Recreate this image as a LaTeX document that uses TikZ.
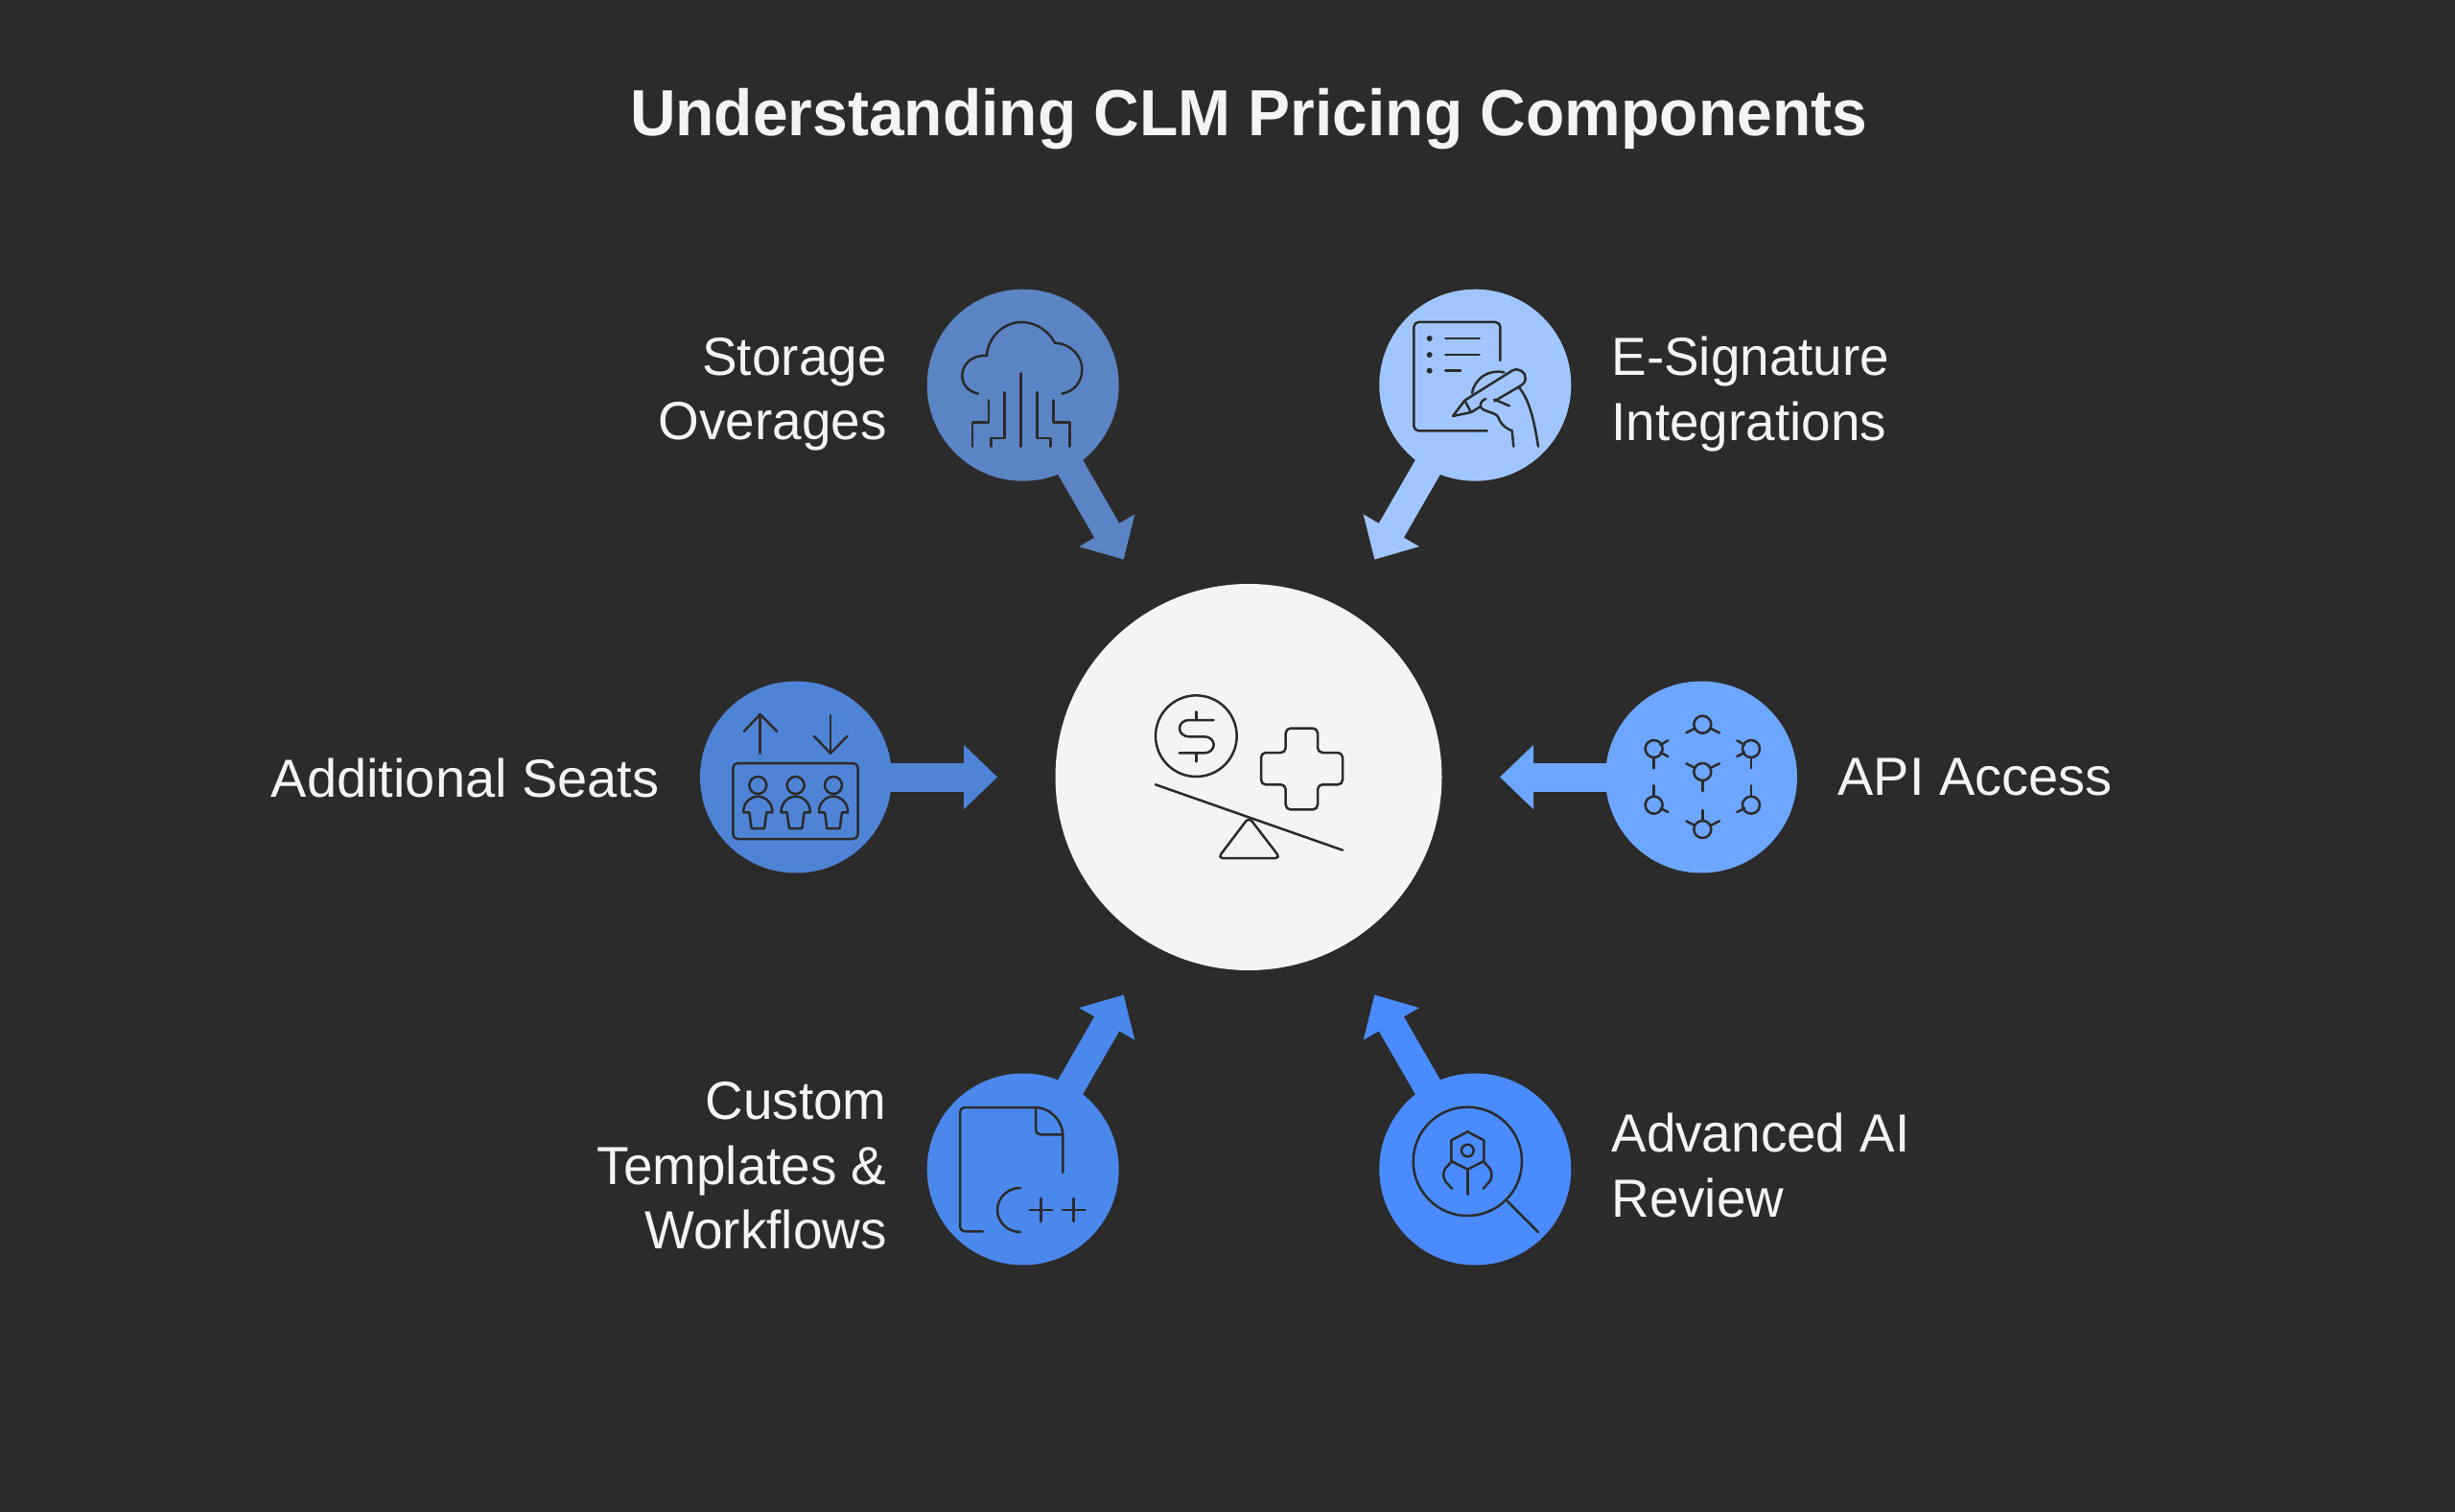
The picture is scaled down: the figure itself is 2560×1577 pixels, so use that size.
\documentclass[tikz,border=0pt]{standalone}
\usepackage{fontspec}
\usetikzlibrary{arrows.meta}
\setmainfont{Liberation Sans}
\newfontfamily\ttlfont[FakeStretch=0.97]{Liberation Sans}
\newfontfamily\lblfont[FakeStretch=0.98]{Liberation Sans}
\definecolor{bg}{HTML}{2B2B2B}
\definecolor{hubc}{HTML}{F4F4F4}
\definecolor{storc}{HTML}{5B84C4}
\definecolor{esigc}{HTML}{A1C6FF}
\definecolor{seatc}{HTML}{4F83D6}
\definecolor{apic}{HTML}{6CA6FF}
\definecolor{custc}{HTML}{4A88EB}
\definecolor{aic}{HTML}{4A8CFF}
\definecolor{txt}{HTML}{F4F4F4}
\tikzset{
  blob/.style={circle,minimum size=100pt,inner sep=0pt,fill=#1},
  flow/.style={draw=#1,line width=15pt,-{Triangle[length=17.5pt,width=32.5pt,fill=#1,color=#1]}},
  lblr/.style={text=txt,font=\lblfont\fontsize{28}{33.7}\selectfont,align=right,anchor=east,inner sep=0pt},
  lbll/.style={text=txt,font=\lblfont\fontsize{28}{33.7}\selectfont,align=left,anchor=west,inner sep=0pt},
  lone/.style={font=\fontsize{28}{33.7}\selectfont},
  ttl/.style={text=txt,font=\ttlfont\fontsize{34}{40}\selectfont\bfseries,inner sep=0pt},
  ico/.style={draw=bg,line width=1.25pt,line cap=round,line join=round},
  zoomed/.style={x=0.16667pt,y=-0.16667pt}
}
\begin{document}
\begin{tikzpicture}[x=0.5pt,y=-0.5pt]
\useasboundingbox (0,0) rectangle (2560,1577);
\fill[bg] (0,0) rectangle (2560,1577);
\node[ttl] (title) at (1302,124) {Understanding CLM Pricing Components};
% nodes
\node[circle,minimum size=201.5pt,inner sep=0pt,fill=hubc] (hub) at (1302,810.5) {};
\node[blob=storc] (stor) at (1066.7,401.7) {};
\node[blob=esigc] (esig) at (1538.3,401.7) {};
\node[blob=seatc] (seat) at (830,810.5) {};
\node[blob=apic] (api) at (1774,810.5) {};
\node[blob=custc] (cust) at (1066.7,1219.5) {};
\node[blob=aic] (ai) at (1538.3,1219.5) {};
% arrow ends
\coordinate (tstor) at (1171.7,583.6);
\coordinate (tesig) at (1433.3,583.6);
\coordinate (tseat) at (1040,810.5);
\coordinate (tapi) at (1564,810.5);
\coordinate (tcust) at (1171.7,1037.6);
\coordinate (tai) at (1433.3,1037.6);
\draw[flow=storc] (stor.center) -- (tstor);
\draw[flow=esigc] (esig.center) -- (tesig);
\draw[flow=seatc] (seat.center) -- (tseat);
\draw[flow=apic] (api.center) -- (tapi);
\draw[flow=custc] (cust.center) -- (tcust);
\draw[flow=aic] (ai.center) -- (tai);
% labels
\node[lblr] (lstor) at (925,411) {Storage\\Overages};
\node[lbll] (lesig) at (1680,411) {E-Signature\\Integrations};
\node[lblr,lone] (lseat) at (688,811) {Additional Seats};
\node[lbll,lone] (lapi) at (1916,811) {API Access};
\node[lblr] (lcust) at (925,1216) {Custom\\Templates \&\\Workflows};
\node[lbll] (lai) at (1680,1215.5) {Advanced AI\\Review};
% storage icon
\begin{scope}[shift={(950,290)},zoomed]
\draw[ico] (210,362) .. controls (180,355) and (160,335) .. (160,305) .. controls (160,270) and (190,240) .. (237,243) .. controls (240,185) and (290,138) .. (345,138) .. controls (390,138) and (430,165) .. (450,203) .. controls (500,205) and (535,245) .. (535,285) .. controls (535,325) and (510,355) .. (472,362);
\draw[ico] (192,527)--(192,451)--(243,451)--(243,382);
\draw[ico] (251,527)--(251,501)--(293,501)--(293,357);
\draw[ico] (344,527)--(344,298);
\draw[ico] (437,527)--(437,501)--(395,501)--(395,357);
\draw[ico] (496,527)--(496,451)--(445,451)--(445,382);
\end{scope}
% e-signature icon
\begin{scope}[shift={(1430,290)},zoomed]
\draw[ico,rounded corners=2.5pt] (403,258)--(403,138)--(133,138)--(133,478)--(362,478);
\foreach \y in {189,240,290} \fill[bg] (182,\y) circle (9);
\draw[ico] (232,189)--(338,189);
\draw[ico] (232,240)--(338,240);
\draw[ico] (232,290)--(279,290);
\draw[ico] (255,432)--(292,383)--(440,290) .. controls (460,278) and (485,295) .. (482,315) .. controls (482,328) and (470,335) .. (462,340)--(385,385);
\draw[ico] (292,383)--(312,420)--(255,432);
\draw[ico] (312,420)--(340,403);
\draw[ico] (385,380)--(432,400);
\draw[ico] (358,378) .. controls (340,382) and (335,405) .. (350,412) -- (385,425) .. controls (398,430) and (398,440) .. (402,447) .. controls (410,462) and (425,472) .. (440,478) -- (445,527);
\draw[ico] (315,360) .. controls (325,310) and (370,285) .. (415,295);
\draw[ico] (460,340) .. controls (495,380) and (510,450) .. (522,527);
\end{scope}
% seats icon
\begin{scope}[shift={(720,700)},zoomed]
\draw[ico] (218,257)--(218,135);
\draw[ico] (167,189)--(218,135)--(271,189);
\draw[ico] (438,137)--(438,257);
\draw[ico] (386,203)--(438,257)--(491,203);
\draw[ico,rounded corners=2.5pt] (133,288) rectangle (524,525);
\foreach \c in {211,329,447} {
  \draw[ico] (\c,357) circle (27);
  \draw[ico] ({\c-20},492) -- ({\c+20},492) -- ({\c+27},442) -- ({\c+45},442) .. controls ({\c+47},415) and ({\c+25},392) .. (\c,392) .. controls ({\c-25},392) and ({\c-47},415) .. ({\c-45},442) -- ({\c-27},442) -- cycle;
}
\end{scope}
% api icon
\begin{scope}[shift={(1670,700)},zoomed]
\foreach \x/\y in {316/167,164/243,468/243,316/315,164/419,468/419,316/495}
  \draw[ico] (\x,\y) circle (27);
\foreach \x/\y/\dx/\dy in {316/167/-51/26,316/167/53/26,
  164/243/44/-26,164/243/44/24,164/243/0/61,
  468/243/-44/-26,468/243/-44/24,468/243/0/61,
  316/315/-51/-26,316/315/53/-26,316/315/0/60,
  164/419/0/-61,164/419/44/22,
  468/419/0/-61,468/419/-44/22,
  316/495/0/-60,316/495/-51/-26,316/495/53/-26}
  \draw[ico] ({\x+.46*\dx},{\y+.46*\dy}) -- ({\x+\dx},{\y+\dy});
\end{scope}
% custom icon
\begin{scope}[shift={(950,1110)},zoomed]
\draw[ico,rounded corners=2.5pt] (224,523)--(153,523)--(153,135)--(385,135);
\draw[ico] (385,135) .. controls (435,135) and (475,175) .. (475,225) -- (475,340);
\draw[ico,rounded corners=2.5pt] (390,135)--(390,220)--(472,220);
\draw[ico] (342,387) .. controls (300,387) and (270,420) .. (270,456) .. controls (270,492) and (300,525) .. (342,525);
\draw[ico] (372,456)--(442,456);
\draw[ico] (407,420)--(407,492);
\draw[ico] (473,456)--(545,456);
\draw[ico] (509,420)--(509,492);
\end{scope}
% ai icon
\begin{scope}[shift={(1430,1110)},zoomed]
\draw[ico] (301,304) circle (170);
\draw[ico] (425,428)--(522,525);
\draw[ico] (301,211)--(352,238)--(352,303)--(301,329)--(250,303)--(250,238)--cycle;
\draw[ico] (301,270) circle (19);
\draw[ico] (301,329)--(301,407);
\draw[ico] (250,306)--(232,325) .. controls (222,340) and (225,355) .. (232,367)--(252,389);
\draw[ico] (352,306)--(370,325) .. controls (380,340) and (377,355) .. (370,367)--(350,389);
\end{scope}
% hub icon
\begin{scope}[shift={(1170,700)},zoomed]
\draw[ico] (232,203) circle (127);
\draw[ico] (287,153)--(210,153) .. controls (192,153) and (180,165) .. (180,179) .. controls (180,193) and (192,205) .. (210,205)--(258,205) .. controls (275,205) and (287,217) .. (287,230) .. controls (287,244) and (275,256) .. (258,256)--(179,256);
\draw[ico] (232,127)--(232,153);
\draw[ico] (232,256)--(232,283);
\draw[ico,rounded corners=2.5pt] (512,179)--(612,179)--(612,255)--(690,255)--(690,355)--(612,355)--(612,433)--(512,433)--(512,355)--(435,355)--(435,255)--(512,255)--cycle;
\draw[ico] (105,355)--(690,560);
\draw[ico,rounded corners=2.5pt] (397,457)--(495,585)--(300,585)--cycle;
\end{scope}
\end{tikzpicture}
\end{document}
